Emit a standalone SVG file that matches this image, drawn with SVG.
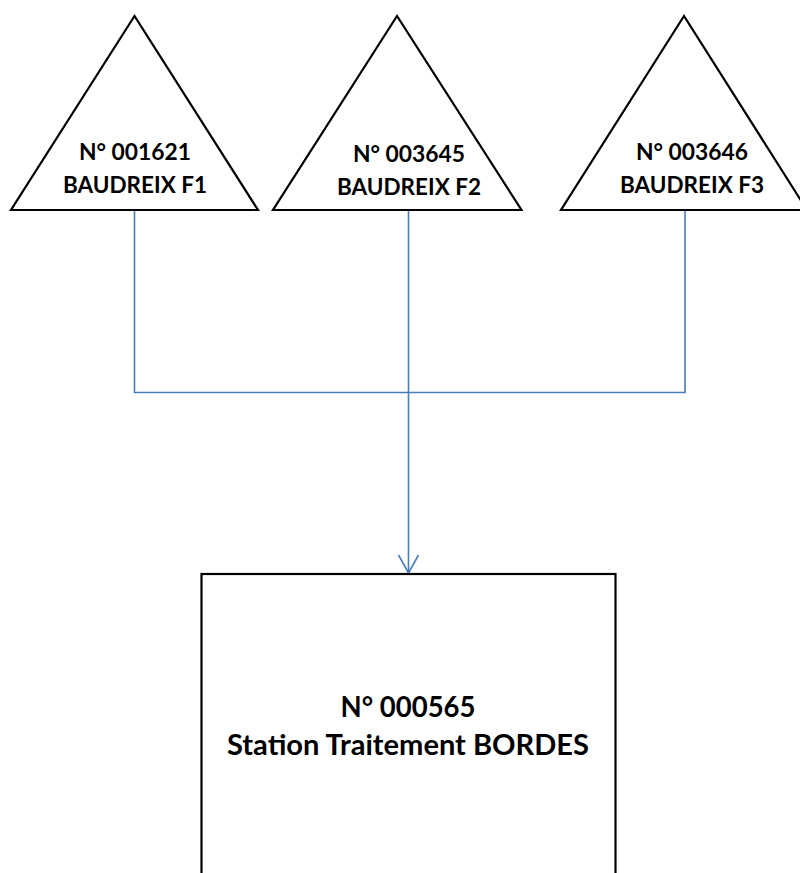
<svg xmlns="http://www.w3.org/2000/svg" width="800" height="873" viewBox="0 0 800 873">
<style>
.shape{fill:#ffffff;stroke:#000000;stroke-width:2.2;stroke-linejoin:miter}
.lbl{font-family:Lato,"Liberation Sans",sans-serif;font-weight:bold;fill:#000000;text-anchor:middle}
.s{font-size:23px}
.b{font-size:28px}
.con{fill:none;stroke:#4a7ebb;stroke-width:1.6}
</style>
<rect width="800" height="873" fill="#ffffff"/>
<g id="connectors">
<polyline class="con" points="134.5,210 134.5,392.5 685,392.5 685,210"/>
<line class="con" x1="408.5" y1="210" x2="408.5" y2="573"/>
<polyline class="con" points="398.5,555 408.5,573 418.5,555"/>
</g>
<g id="node-f1">
<polygon class="shape" points="134.5,16 11,210 258,210"/>
<text class="lbl s" x="135" y="159.5" textLength="112" lengthAdjust="spacingAndGlyphs">N° 001621</text>
<text class="lbl s" x="135" y="192.5" textLength="144" lengthAdjust="spacingAndGlyphs">BAUDREIX F1</text>
</g>
<g id="node-f2">
<polygon class="shape" points="397,16 273,210 521.5,210"/>
<text class="lbl s" x="409" y="162" textLength="112" lengthAdjust="spacingAndGlyphs">N° 003645</text>
<text class="lbl s" x="409" y="195" textLength="144" lengthAdjust="spacingAndGlyphs">BAUDREIX F2</text>
</g>
<g id="node-f3">
<polygon class="shape" points="684,16 561,210 807,210"/>
<text class="lbl s" x="692" y="159.5" textLength="112" lengthAdjust="spacingAndGlyphs">N° 003646</text>
<text class="lbl s" x="692" y="192.5" textLength="144" lengthAdjust="spacingAndGlyphs">BAUDREIX F3</text>
</g>
<g id="node-station">
<rect class="shape" x="201.5" y="574" width="414" height="320"/>
<text class="lbl b" x="408" y="716.5" textLength="135" lengthAdjust="spacingAndGlyphs">N° 000565</text>
<text class="lbl b" x="408" y="755" textLength="362" lengthAdjust="spacingAndGlyphs">Station Traitement BORDES</text>
</g>
</svg>
